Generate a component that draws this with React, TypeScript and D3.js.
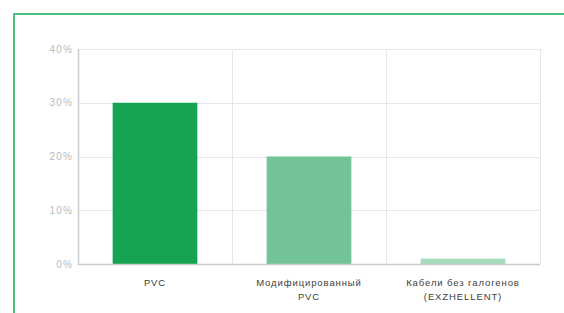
import { useRef, useEffect } from 'react';
import * as d3 from 'd3';

const categories = ['PVC', 'Модифицированный|PVC', 'Кабели без галогенов|(EXZHELLENT)'];
const values = [30, 20, 1];
const barColors = ['#16a352', '#72c496', '#a6dcbc'];
const yTicks = [0, 10, 20, 30, 40];

const width = 564;
const height = 313;

export default function App() {
  const svgRef = useRef<SVGSVGElement>(null);

  useEffect(() => {
    const svg = d3.select(svgRef.current);
    svg.selectAll('*').remove();

    const margin = { top: 49, right: 24, bottom: 49, left: 78 };

    // green frame, runs off the right/bottom edge
    svg
      .append('rect')
      .attr('x', 14)
      .attr('y', 14)
      .attr('width', width + 20)
      .attr('height', height + 20)
      .attr('fill', 'none')
      .attr('stroke', '#4cc07f')
      .attr('stroke-width', 2);

    const x = d3
      .scaleBand()
      .domain(categories)
      .range([margin.left, width - margin.right])
      .paddingInner(0)
      .paddingOuter(0);

    const y = d3
      .scaleLinear()
      .domain([0, 40])
      .range([height - margin.bottom, margin.top]);

    const g = svg.append('g');

    // horizontal grid
    g.selectAll('line.h')
      .data(yTicks)
      .join('line')
      .attr('class', 'h')
      .attr('x1', margin.left)
      .attr('x2', width - margin.right)
      .attr('y1', d => Math.round(y(d)) + 0.5)
      .attr('y2', d => Math.round(y(d)) + 0.5)
      .attr('stroke', '#e4e6ea');

    // vertical grid at band edges
    const edges = categories.slice(1).map(c => x(c)!).concat(width - margin.right);
    g.selectAll('line.v')
      .data(edges)
      .join('line')
      .attr('class', 'v')
      .attr('x1', d => Math.round(d) + 0.5)
      .attr('x2', d => Math.round(d) + 0.5)
      .attr('y1', margin.top)
      .attr('y2', height - margin.bottom)
      .attr('stroke', '#e4e6ea');

    const barW = x.bandwidth() * 0.55;
    g.selectAll('rect.bar')
      .data(values)
      .join('rect')
      .attr('class', 'bar')
      .attr('x', (d, i) => x(categories[i])! + (x.bandwidth() - barW) / 2)
      .attr('y', d => y(d))
      .attr('width', barW)
      .attr('height', d => y(0) - y(d))
      .attr('fill', (d, i) => barColors[i]);

    // axes lines
    g.append('line')
      .attr('x1', margin.left + 0.5)
      .attr('x2', margin.left + 0.5)
      .attr('y1', margin.top)
      .attr('y2', height - margin.bottom + 1)
      .attr('stroke', '#c8cbd0')
      .attr('stroke-width', 1.5);
    g.append('line')
      .attr('x1', margin.left)
      .attr('x2', width - margin.right)
      .attr('y1', height - margin.bottom + 0.5)
      .attr('y2', height - margin.bottom + 0.5)
      .attr('stroke', '#c8cbd0')
      .attr('stroke-width', 1.5);

    g.selectAll('text.ytick')
      .data(yTicks)
      .join('text')
      .attr('class', 'ytick')
      .attr('x', margin.left - 5)
      .attr('y', d => y(d) + 3.5)
      .attr('text-anchor', 'end')
      .attr('font-family', 'Liberation Sans, Arial, sans-serif')
      .attr('font-size', 10)
      .attr('letter-spacing', 1.2)
      .attr('fill', '#b8babe')
      .text(d => `${d}%`);

    const labels = g
      .selectAll('text.xlab')
      .data(categories)
      .join('text')
      .attr('class', 'xlab')
      .attr('text-anchor', 'middle')
      .attr('font-family', 'Liberation Sans, Arial, sans-serif')
      .attr('font-size', 9.5)
      .attr('letter-spacing', 0.9)
      .attr('fill', '#404040');

    labels
      .selectAll('tspan')
      .data(d => d.split('|').map(t => ({ t, c: d })))
      .join('tspan')
      .attr('x', d => x(d.c)! + x.bandwidth() / 2)
      .attr('y', (d, i) => height - margin.bottom + 22 + i * 13.5)
      .text(d => d.t);
  }, []);

  return (
    <svg
      ref={svgRef}
      width={width}
      height={height}
      style={{ position: 'fixed', left: 0, top: 0, background: '#fff' }}
    />
  );
}
